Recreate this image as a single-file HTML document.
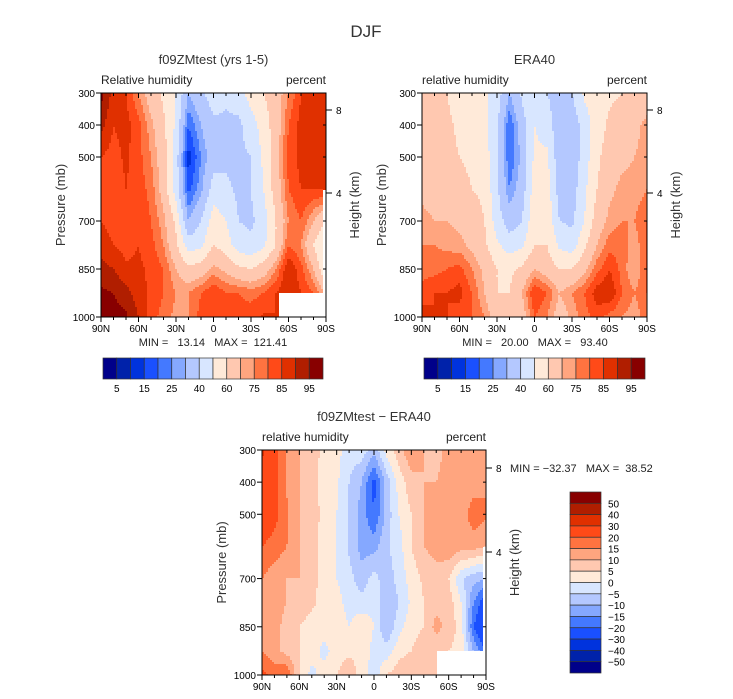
<!DOCTYPE html>
<html><head><meta charset="utf-8">
<style>
html,body{margin:0;padding:0;background:#fff;}
svg{display:block;font-family:"Liberation Sans",sans-serif;}
text{white-space:pre;}
</style></head>
<body>
<svg id="chart" width="733" height="699" viewBox="0 0 733 699" xmlns="http://www.w3.org/2000/svg">
<text x="366" y="37" font-size="17" text-anchor="middle" fill="#333">DJF</text>
</svg>
<script>
// ---------- data ----------
const latLabels = ["90N","60N","30N","0","30S","60S","90S"];
const pressureLevels = [300,400,500,600,700,775,850,925,1000];
const pressureTicks = [300,400,500,700,850,1000];
const rhLevels = [5,10,15,20,25,30,40,50,60,70,75,80,85,90,95];
const rhLabels = ["5","15","25","40","60","75","85","95"];
const diffLevels = [-50,-40,-30,-20,-15,-10,-5,0,5,10,15,20,30,40,50];
const diffLabels = ["50","40","30","20","15","10","5","0","\u22125","\u221210","\u221215","\u221220","\u221230","\u221240","\u221250"];
// columns: 90N..90S every 10 deg ; rows: pressureLevels
const modelRH = [
 [97,88,85,75,65,58,50,30,38,45,42,45,55,60,65,75,85,86,85],
 [92,85,87,82,72,62,48,20,30,38,38,38,45,55,65,80,87,89,86],
 [85,83,86,82,75,65,45,12,25,35,38,38,40,52,65,82,87,89,88],
 [85,82,85,83,78,66,45,18,28,45,42,38,40,50,65,80,85,85,86],
 [85,83,82,85,80,72,58,30,40,55,50,40,38,45,60,75,80,70,60],
 [88,85,83,85,82,75,62,45,48,60,55,45,42,48,60,80,75,60,45],
 [92,90,86,86,84,80,70,62,65,72,68,62,60,65,75,90,82,70,50],
 [96,95,92,87,84,80,75,75,80,85,80,80,78,80,85,90,85,80,70],
 [97,97,96,90,82,78,73,75,82,82,84,82,83,86,85,85,85,85,85]
];
const eraRH = [
 [62,62,60,55,55,52,45,30,42,50,40,35,40,52,55,58,60,62,65],
 [65,65,62,58,55,52,42,20,35,50,45,33,33,45,55,62,65,68,72],
 [65,65,63,60,57,55,42,20,32,52,52,33,33,45,58,65,68,70,72],
 [68,67,66,65,60,58,42,25,35,55,55,35,35,48,60,68,72,72,75],
 [72,70,70,68,65,60,45,35,40,58,58,40,38,50,65,72,75,75,80],
 [75,75,73,72,68,62,52,45,48,60,60,48,45,58,70,78,78,72,80],
 [78,78,80,82,75,68,60,58,62,70,65,60,60,68,78,85,78,70,80],
 [82,85,85,87,80,70,60,60,70,85,80,70,75,80,88,90,80,75,80],
 [88,85,85,82,80,75,65,60,65,80,75,65,72,78,82,78,75,72,78]
];
const diffRH = [
 [32,22,14,10,8,3,2,-3,-2,-8,2,8,14,10,8,12,15,10,10],
 [25,22,14,10,7,3,1,-5,-10,-22,-8,2,8,10,10,12,12,12,14],
 [25,22,16,10,8,3,0,-6,-12,-20,-8,0,5,10,10,12,12,18,16],
 [20,18,15,10,7,3,0,-6,-12,-12,-6,-2,5,10,12,14,12,12,10],
 [15,12,10,10,6,4,0,-3,-8,-3,-8,-3,2,6,8,5,-4,-8,-10],
 [14,12,10,8,6,3,2,-2,-3,-1,-10,-5,1,5,8,8,0,-15,-25],
 [15,12,8,5,3,3,3,0,4,0,-10,-2,3,5,12,8,3,-20,-30],
 [15,12,8,5,3,-2,3,4,4,-2,-3,3,5,8,5,5,3,-10,-20],
 [22,18,20,5,-2,3,5,8,3,-3,5,8,10,5,5,5,5,5,5]
];
const palette = ["#00008a","#0022aa","#0033dd","#1a50ff","#4479ff","#85a8ff","#b4c8ff","#d8e6ff","#ffead9","#ffc8b0","#ffa57f","#ff7340","#ff4a18","#e03000","#b01e00","#880000"];

// ---------- drawing ----------
const NS="http://www.w3.org/2000/svg";
const svg=document.getElementById("chart");
function el(tag,attrs,parent){const e=document.createElementNS(NS,tag);for(const k in attrs)e.setAttribute(k,attrs[k]);(parent||svg).appendChild(e);return e;}
function txt(s,attrs,parent){const e=el("text",attrs,parent);e.textContent=s;return e;}
function colorFor(v,levels){let i=0;while(i<levels.length&&v>=levels[i])i++;return palette[i];}
function sample(data,fx,fy){
  let r=0;while(r<pressureLevels.length-2&&fy>pressureLevels[r+1])r++;
  const ty=Math.max(0,Math.min(1,(fy-pressureLevels[r])/(pressureLevels[r+1]-pressureLevels[r])));
  fx=Math.max(0,Math.min(18,fx));
  let c=Math.min(Math.floor(fx),17);const tx=fx-c;
  const a=data[r][c]*(1-tx)+data[r][c+1]*tx;
  const b=data[r+1][c]*(1-tx)+data[r+1][c+1]*tx;
  return a*(1-ty)+b*ty;
}
function panel(o){
  const g=el("g",{});
  
  
  const x0=o.x,y0=o.y,W=o.w,H=o.h;
  const xScale=lat=>x0+(90-lat)/180*W;
  const yScale=p=>y0+(p-300)/700*H;
  const field=el("g",{},g);
  
  
  const step=2;
  for(let py=0;py<H;py+=step){
    const p=300+(py+step/2)/H*700;
    let runStart=0,runColor=null;
    for(let px=0;;px+=step){
      const end=px>=W;
      let col=null;
      if(!end){const fx=(px+step/2)/W*18;col=colorFor(sample(o.data,fx,p),o.levels);}
      if(col!==runColor){
        if(runColor!==null){
          const r=el("rect",{x:x0+runStart,y:y0+py,width:Math.min(px,W)-runStart+0.5,height:Math.min(step+0.5,H-py),fill:runColor},field);
          
          
        }
        runStart=px;runColor=col;
      }
      if(end)break;
    }
  }
  (o.masks||[]).forEach(m=>{
    const r=el("rect",{x:m[0],y:m[1],width:m[2],height:m[3],fill:"#fff"},g);
    
    
  });
  const frame=el("rect",{x:x0,y:y0,width:W,height:H,fill:"none",stroke:"#000","stroke-width":1},g);
  
  
  for(let lat=90;lat>=-90;lat-=10){
    const x=xScale(lat),major=(lat%30===0);
    el("line",{x1:x,y1:y0+H,x2:x,y2:y0+H+(major?5:3),stroke:"#000"},g);
    el("line",{x1:x,y1:y0,x2:x,y2:y0+(major?5:3),stroke:"#000"},g);
  }
  latLabels.forEach((s,i)=>{
    const t=txt(s,{x:xScale(90-30*i),y:y0+H+15,"font-size":10,"text-anchor":"middle",fill:"#000"},g);
    
    
  });
  pressureTicks.forEach(p=>{
    const y=yScale(p);
    el("line",{x1:x0-5,y1:y,x2:x0,y2:y,stroke:"#000"},g);
    el("line",{x1:x0+W,y1:y,x2:x0+W-3,y2:y,stroke:"#000"},g);
    const t=txt(String(p),{x:x0-6,y:y+4,"font-size":10,"text-anchor":"end",fill:"#000"},g);
    
    
  });
  [[8,o.h8],[4,o.h4]].forEach(h=>{
    el("line",{x1:x0+W,y1:h[1],x2:x0+W+6,y2:h[1],stroke:"#000"},g);
    const t=txt(String(h[0]),{x:x0+W+10,y:h[1]+4,"font-size":10,fill:"#000"},g);
    
    
  });
  const yt=txt("Pressure (mb)",{x:0,y:0,"font-size":13,"text-anchor":"middle",fill:"#333",transform:`translate(${x0-36},${y0+H/2}) rotate(-90)`},g);
  
  
  const ht=txt("Height (km)",{x:0,y:0,"font-size":13,"text-anchor":"middle",fill:"#333",transform:`translate(${x0+W+33},${y0+H/2}) rotate(-90)`},g);
  
  
  const tt=txt(o.title,{x:x0+W/2,y:y0-29,"font-size":13,"text-anchor":"middle",fill:"#333"},g);
  
  
  const lt=txt(o.left,{x:x0,y:y0-9,"font-size":12,fill:"#222"},g);
  
  
  const rt=txt("percent",{x:x0+W,y:y0-9,"font-size":12,"text-anchor":"end",fill:"#222"},g);
  
  
  if(o.minmax){
    const mm=txt(o.minmax[0],{x:o.minmax[1],y:o.minmax[2],"font-size":11,"text-anchor":o.minmax[3],fill:"#222"},g);
    
    
  }
}
function hColorbar(x,y,w,h){
  const g=el("g",{});
  
  
  const cw=w/palette.length;
  palette.forEach((c,i)=>{
    const r=el("rect",{x:x+i*cw,y:y,width:cw,height:h,fill:c,stroke:"#333","stroke-width":0.7},g);
    
    
  });
  rhLabels.forEach((s,i)=>{
    const t=txt(s,{x:x+(2*i+1)*cw,y:y+h+13,"font-size":10,"text-anchor":"middle",fill:"#000"},g);
    
    
  });
}
function vColorbar(x,y,w,h){
  const g=el("g",{});
  
  
  const ch=h/palette.length;
  palette.slice().reverse().forEach((c,i)=>{
    const r=el("rect",{x:x,y:y+i*ch,width:w,height:ch,fill:c,stroke:"#333","stroke-width":0.7},g);
    
    
  });
  diffLabels.forEach((s,i)=>{
    const t=txt(s,{x:x+w+7,y:y+(i+1)*ch+4,"font-size":10,fill:"#000"},g);
    
    
  });
}
panel({name:"model-panel",x:101,y:93,w:225,h:224,data:modelRH,levels:rhLevels,title:"f09ZMtest (yrs 1-5)",left:"Relative humidity",
  h8:110,h4:193,masks:[[279,293,47,24],[323,190,3,103]],minmax:["MIN =   13.14   MAX =  121.41",213,346,"middle"]});
panel({name:"era40-panel",x:422,y:93,w:225,h:224,data:eraRH,levels:rhLevels,title:"ERA40",left:"relative humidity",
  h8:110,h4:193,minmax:["MIN =   20.00   MAX =   93.40",535,346,"middle"]});
panel({name:"difference-panel",x:262,y:450,w:224,h:225,data:diffRH,levels:diffLevels,title:"f09ZMtest \u2212 ERA40",left:"relative humidity",
  h8:468,h4:552,masks:[[437,651,49,24],[483,547,3,104]],minmax:["MIN = \u221232.37   MAX =  38.52",510,472,"start"]});
hColorbar(103,358,220,21);
hColorbar(424,358,221,21);
vColorbar(570,492,31,181);
</script>
</body></html>
